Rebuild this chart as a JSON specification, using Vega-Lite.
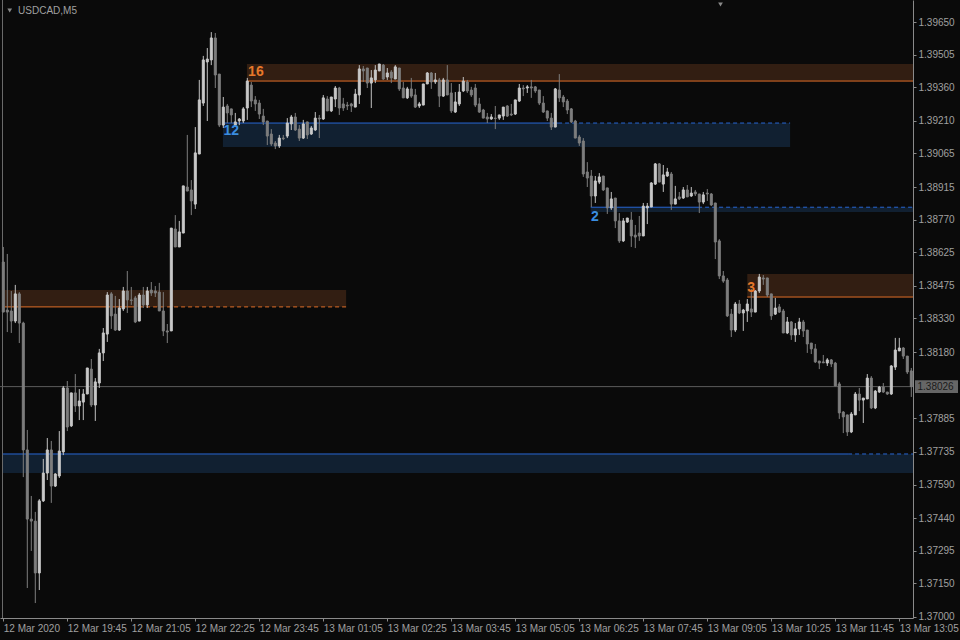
{
  "$schema": "https://vega.github.io/schema/vega-lite/v6.json",
  "width": 913,
  "height": 618,
  "autosize": {"type": "none"},
  "padding": {"left": 0, "top": 0, "right": 47, "bottom": 22},
  "background": "#0a0a0a",
  "config": {
    "view": {"stroke": null},
    "scale": {"continuousPadding": 0},
    "axis": {"grid": false, "labelFont": "Liberation Sans", "labelFontSize": 10, "labelColor": "#a0a0a0", "domainColor": "#8a8a8a", "tickColor": "#8a8a8a", "tickSize": 3, "labelPadding": 2, "labelOverlap": false, "labelFlush": false, "labelBound": false}
  },
  "datasets": {
    "candles": [
      {"i":0,"o":1.38581,"h":1.38648,"l":1.38358,"c":1.38358},
      {"i":1,"o":1.38367,"h":1.38617,"l":1.38269,"c":1.38358},
      {"i":2,"o":1.38363,"h":1.38452,"l":1.38265,"c":1.38318},
      {"i":3,"o":1.38318,"h":1.38479,"l":1.38309,"c":1.38439},
      {"i":4,"o":1.38439,"h":1.38447,"l":1.38220,"c":1.38309},
      {"i":5,"o":1.38309,"h":1.38315,"l":1.37623,"c":1.37744},
      {"i":6,"o":1.37744,"h":1.37833,"l":1.37129,"c":1.37436},
      {"i":7,"o":1.37436,"h":1.37539,"l":1.37294,"c":1.37427},
      {"i":8,"o":1.37427,"h":1.37468,"l":1.37062,"c":1.37196},
      {"i":9,"o":1.37196,"h":1.37525,"l":1.37120,"c":1.37517},
      {"i":10,"o":1.37517,"h":1.37704,"l":1.37512,"c":1.37641},
      {"i":11,"o":1.37641,"h":1.37797,"l":1.37610,"c":1.37744},
      {"i":12,"o":1.37744,"h":1.37784,"l":1.37508,"c":1.37583},
      {"i":13,"o":1.37583,"h":1.37640,"l":1.37579,"c":1.37637},
      {"i":14,"o":1.37628,"h":1.37828,"l":1.37619,"c":1.37739},
      {"i":15,"o":1.37735,"h":1.38029,"l":1.37721,"c":1.38020},
      {"i":16,"o":1.38020,"h":1.38051,"l":1.37828,"c":1.37846},
      {"i":17,"o":1.37851,"h":1.37998,"l":1.37846,"c":1.37998},
      {"i":18,"o":1.37998,"h":1.38082,"l":1.37913,"c":1.37940},
      {"i":19,"o":1.37940,"h":1.38015,"l":1.37877,"c":1.37962},
      {"i":20,"o":1.37957,"h":1.38015,"l":1.37877,"c":1.37993},
      {"i":21,"o":1.37993,"h":1.38109,"l":1.37993,"c":1.38109},
      {"i":22,"o":1.38104,"h":1.38149,"l":1.37935,"c":1.37944},
      {"i":23,"o":1.37944,"h":1.38064,"l":1.37873,"c":1.38047},
      {"i":24,"o":1.38042,"h":1.38194,"l":1.38020,"c":1.38176},
      {"i":25,"o":1.38176,"h":1.38287,"l":1.38140,"c":1.38265},
      {"i":26,"o":1.38260,"h":1.38447,"l":1.38225,"c":1.38434},
      {"i":27,"o":1.38439,"h":1.38447,"l":1.38283,"c":1.38341},
      {"i":28,"o":1.38349,"h":1.38430,"l":1.38274,"c":1.38278},
      {"i":29,"o":1.38278,"h":1.38416,"l":1.38274,"c":1.38376},
      {"i":30,"o":1.38372,"h":1.38470,"l":1.38363,"c":1.38452},
      {"i":31,"o":1.38452,"h":1.38541,"l":1.38354,"c":1.38412},
      {"i":32,"o":1.38412,"h":1.38470,"l":1.38390,"c":1.38410},
      {"i":33,"o":1.38421,"h":1.38430,"l":1.38309,"c":1.38314},
      {"i":34,"o":1.38318,"h":1.38443,"l":1.38318,"c":1.38434},
      {"i":35,"o":1.38434,"h":1.38470,"l":1.38376,"c":1.38390},
      {"i":36,"o":1.38390,"h":1.38470,"l":1.38376,"c":1.38452},
      {"i":37,"o":1.38456,"h":1.38492,"l":1.38430,"c":1.38443},
      {"i":38,"o":1.38452,"h":1.38474,"l":1.38425,"c":1.38443},
      {"i":39,"o":1.38447,"h":1.38488,"l":1.38363,"c":1.38363},
      {"i":40,"o":1.38363,"h":1.38447,"l":1.38251,"c":1.38274},
      {"i":41,"o":1.38274,"h":1.38305,"l":1.38220,"c":1.38269},
      {"i":42,"o":1.38274,"h":1.38732,"l":1.38274,"c":1.38732},
      {"i":43,"o":1.38728,"h":1.38790,"l":1.38648,"c":1.38648},
      {"i":44,"o":1.38648,"h":1.38764,"l":1.38648,"c":1.38715},
      {"i":45,"o":1.38710,"h":1.38920,"l":1.38710,"c":1.38920},
      {"i":46,"o":1.38915,"h":1.39147,"l":1.38897,"c":1.38897},
      {"i":47,"o":1.38902,"h":1.38946,"l":1.38790,"c":1.38853},
      {"i":48,"o":1.38839,"h":1.39182,"l":1.38817,"c":1.39067},
      {"i":49,"o":1.39062,"h":1.39392,"l":1.39062,"c":1.39303},
      {"i":50,"o":1.39289,"h":1.39499,"l":1.39276,"c":1.39481},
      {"i":51,"o":1.39472,"h":1.39534,"l":1.39209,"c":1.39485},
      {"i":52,"o":1.39481,"h":1.39605,"l":1.39458,"c":1.39579},
      {"i":53,"o":1.39579,"h":1.39601,"l":1.39356,"c":1.39414},
      {"i":54,"o":1.39418,"h":1.39418,"l":1.39182,"c":1.39191},
      {"i":55,"o":1.39191,"h":1.39316,"l":1.39178,"c":1.39271},
      {"i":56,"o":1.39276,"h":1.39285,"l":1.39200,"c":1.39245},
      {"i":57,"o":1.39263,"h":1.39263,"l":1.39200,"c":1.39236},
      {"i":58,"o":1.39191,"h":1.39245,"l":1.39187,"c":1.39205},
      {"i":59,"o":1.39209,"h":1.39222,"l":1.39191,"c":1.39218},
      {"i":60,"o":1.39209,"h":1.39271,"l":1.39200,"c":1.39263},
      {"i":61,"o":1.39267,"h":1.39401,"l":1.39214,"c":1.39387},
      {"i":62,"o":1.39369,"h":1.39383,"l":1.39271,"c":1.39298},
      {"i":63,"o":1.39303,"h":1.39320,"l":1.39254,"c":1.39285},
      {"i":64,"o":1.39289,"h":1.39303,"l":1.39218,"c":1.39240},
      {"i":65,"o":1.39231,"h":1.39263,"l":1.39191,"c":1.39205},
      {"i":66,"o":1.39209,"h":1.39209,"l":1.39102,"c":1.39142},
      {"i":67,"o":1.39151,"h":1.39173,"l":1.39098,"c":1.39107},
      {"i":68,"o":1.39111,"h":1.39120,"l":1.39084,"c":1.39098},
      {"i":69,"o":1.39098,"h":1.39147,"l":1.39089,"c":1.39133},
      {"i":70,"o":1.39133,"h":1.39147,"l":1.39124,"c":1.39130},
      {"i":71,"o":1.39142,"h":1.39222,"l":1.39133,"c":1.39200},
      {"i":72,"o":1.39196,"h":1.39236,"l":1.39169,"c":1.39227},
      {"i":73,"o":1.39227,"h":1.39245,"l":1.39165,"c":1.39169},
      {"i":74,"o":1.39173,"h":1.39191,"l":1.39120,"c":1.39133},
      {"i":75,"o":1.39133,"h":1.39214,"l":1.39129,"c":1.39196},
      {"i":76,"o":1.39205,"h":1.39205,"l":1.39129,"c":1.39147},
      {"i":77,"o":1.39151,"h":1.39187,"l":1.39147,"c":1.39178},
      {"i":78,"o":1.39169,"h":1.39249,"l":1.39165,"c":1.39222},
      {"i":79,"o":1.39222,"h":1.39236,"l":1.39133,"c":1.39218},
      {"i":80,"o":1.39218,"h":1.39325,"l":1.39214,"c":1.39312},
      {"i":81,"o":1.39307,"h":1.39320,"l":1.39254,"c":1.39254},
      {"i":82,"o":1.39254,"h":1.39316,"l":1.39249,"c":1.39316},
      {"i":83,"o":1.39307,"h":1.39365,"l":1.39271,"c":1.39356},
      {"i":84,"o":1.39356,"h":1.39361,"l":1.39236,"c":1.39267},
      {"i":85,"o":1.39285,"h":1.39312,"l":1.39254,"c":1.39267},
      {"i":86,"o":1.39280,"h":1.39294,"l":1.39258,"c":1.39276},
      {"i":87,"o":1.39285,"h":1.39290,"l":1.39249,"c":1.39276},
      {"i":88,"o":1.39271,"h":1.39352,"l":1.39271,"c":1.39329},
      {"i":89,"o":1.39325,"h":1.39458,"l":1.39285,"c":1.39441},
      {"i":90,"o":1.39441,"h":1.39454,"l":1.39383,"c":1.39432},
      {"i":91,"o":1.39445,"h":1.39445,"l":1.39356,"c":1.39378},
      {"i":92,"o":1.39378,"h":1.39436,"l":1.39267,"c":1.39401},
      {"i":93,"o":1.39392,"h":1.39458,"l":1.39378,"c":1.39436},
      {"i":94,"o":1.39432,"h":1.39463,"l":1.39432,"c":1.39463},
      {"i":95,"o":1.39458,"h":1.39463,"l":1.39392,"c":1.39396},
      {"i":96,"o":1.39405,"h":1.39445,"l":1.39392,"c":1.39423},
      {"i":97,"o":1.39427,"h":1.39436,"l":1.39378,"c":1.39401},
      {"i":98,"o":1.39396,"h":1.39458,"l":1.39396,"c":1.39450},
      {"i":99,"o":1.39445,"h":1.39445,"l":1.39343,"c":1.39352},
      {"i":100,"o":1.39356,"h":1.39383,"l":1.39312,"c":1.39312},
      {"i":101,"o":1.39312,"h":1.39361,"l":1.39307,"c":1.39352},
      {"i":102,"o":1.39352,"h":1.39401,"l":1.39312,"c":1.39320},
      {"i":103,"o":1.39325,"h":1.39352,"l":1.39267,"c":1.39271},
      {"i":104,"o":1.39276,"h":1.39294,"l":1.39267,"c":1.39285},
      {"i":105,"o":1.39280,"h":1.39374,"l":1.39280,"c":1.39374},
      {"i":106,"o":1.39374,"h":1.39427,"l":1.39374,"c":1.39423},
      {"i":107,"o":1.39423,"h":1.39427,"l":1.39352,"c":1.39383},
      {"i":108,"o":1.39383,"h":1.39423,"l":1.39374,"c":1.39392},
      {"i":109,"o":1.39392,"h":1.39401,"l":1.39271,"c":1.39320},
      {"i":110,"o":1.39320,"h":1.39401,"l":1.39316,"c":1.39392},
      {"i":111,"o":1.39392,"h":1.39458,"l":1.39325,"c":1.39325},
      {"i":112,"o":1.39334,"h":1.39378,"l":1.39245,"c":1.39254},
      {"i":113,"o":1.39249,"h":1.39338,"l":1.39245,"c":1.39294},
      {"i":114,"o":1.39285,"h":1.39374,"l":1.39276,"c":1.39338},
      {"i":115,"o":1.39343,"h":1.39405,"l":1.39338,"c":1.39387},
      {"i":116,"o":1.39383,"h":1.39392,"l":1.39334,"c":1.39343},
      {"i":117,"o":1.39347,"h":1.39361,"l":1.39316,"c":1.39325},
      {"i":118,"o":1.39356,"h":1.39374,"l":1.39271,"c":1.39280},
      {"i":119,"o":1.39285,"h":1.39312,"l":1.39245,"c":1.39249},
      {"i":120,"o":1.39258,"h":1.39263,"l":1.39222,"c":1.39222},
      {"i":121,"o":1.39227,"h":1.39245,"l":1.39200,"c":1.39218},
      {"i":122,"o":1.39218,"h":1.39240,"l":1.39214,"c":1.39227},
      {"i":123,"o":1.39222,"h":1.39276,"l":1.39173,"c":1.39220},
      {"i":124,"o":1.39222,"h":1.39236,"l":1.39214,"c":1.39236},
      {"i":125,"o":1.39231,"h":1.39271,"l":1.39214,"c":1.39271},
      {"i":126,"o":1.39276,"h":1.39280,"l":1.39227,"c":1.39231},
      {"i":127,"o":1.39240,"h":1.39285,"l":1.39231,"c":1.39236},
      {"i":128,"o":1.39240,"h":1.39303,"l":1.39236,"c":1.39303},
      {"i":129,"o":1.39298,"h":1.39374,"l":1.39294,"c":1.39356},
      {"i":130,"o":1.39356,"h":1.39369,"l":1.39320,"c":1.39352},
      {"i":131,"o":1.39356,"h":1.39369,"l":1.39334,"c":1.39361},
      {"i":132,"o":1.39361,"h":1.39392,"l":1.39312,"c":1.39356},
      {"i":133,"o":1.39361,"h":1.39365,"l":1.39334,"c":1.39343},
      {"i":134,"o":1.39347,"h":1.39347,"l":1.39280,"c":1.39289},
      {"i":135,"o":1.39289,"h":1.39320,"l":1.39245,"c":1.39249},
      {"i":136,"o":1.39254,"h":1.39254,"l":1.39209,"c":1.39222},
      {"i":137,"o":1.39222,"h":1.39245,"l":1.39169,"c":1.39182},
      {"i":138,"o":1.39182,"h":1.39356,"l":1.39182,"c":1.39352},
      {"i":139,"o":1.39347,"h":1.39418,"l":1.39294,"c":1.39312},
      {"i":140,"o":1.39316,"h":1.39325,"l":1.39271,"c":1.39294},
      {"i":141,"o":1.39298,"h":1.39307,"l":1.39240,"c":1.39258},
      {"i":142,"o":1.39263,"h":1.39267,"l":1.39200,"c":1.39205},
      {"i":143,"o":1.39209,"h":1.39214,"l":1.39133,"c":1.39133},
      {"i":144,"o":1.39138,"h":1.39147,"l":1.39098,"c":1.39111},
      {"i":145,"o":1.39120,"h":1.39133,"l":1.38960,"c":1.38973},
      {"i":146,"o":1.38982,"h":1.39026,"l":1.38915,"c":1.38955},
      {"i":147,"o":1.38964,"h":1.38991,"l":1.38826,"c":1.38875},
      {"i":148,"o":1.38875,"h":1.38964,"l":1.38844,"c":1.38942},
      {"i":149,"o":1.38937,"h":1.38977,"l":1.38928,"c":1.38960},
      {"i":150,"o":1.38964,"h":1.38964,"l":1.38897,"c":1.38902},
      {"i":151,"o":1.38911,"h":1.38911,"l":1.38795,"c":1.38822},
      {"i":152,"o":1.38822,"h":1.38893,"l":1.38813,"c":1.38862},
      {"i":153,"o":1.38866,"h":1.38866,"l":1.38732,"c":1.38764},
      {"i":154,"o":1.38764,"h":1.38799,"l":1.38666,"c":1.38675},
      {"i":155,"o":1.38675,"h":1.38777,"l":1.38670,"c":1.38764},
      {"i":156,"o":1.38759,"h":1.38777,"l":1.38755,"c":1.38777},
      {"i":157,"o":1.38768,"h":1.38804,"l":1.38648,"c":1.38697},
      {"i":158,"o":1.38701,"h":1.38746,"l":1.38643,"c":1.38692},
      {"i":159,"o":1.38710,"h":1.38786,"l":1.38675,"c":1.38697},
      {"i":160,"o":1.38697,"h":1.38844,"l":1.38697,"c":1.38830},
      {"i":161,"o":1.38822,"h":1.38844,"l":1.38750,"c":1.38830},
      {"i":162,"o":1.38826,"h":1.38937,"l":1.38826,"c":1.38933},
      {"i":163,"o":1.38928,"h":1.39022,"l":1.38924,"c":1.39018},
      {"i":164,"o":1.39018,"h":1.39022,"l":1.38937,"c":1.38937},
      {"i":165,"o":1.38928,"h":1.39013,"l":1.38893,"c":1.38969},
      {"i":166,"o":1.38964,"h":1.39000,"l":1.38960,"c":1.38982},
      {"i":167,"o":1.38973,"h":1.38982,"l":1.38813,"c":1.38839},
      {"i":168,"o":1.38839,"h":1.38920,"l":1.38839,"c":1.38862},
      {"i":169,"o":1.38871,"h":1.38893,"l":1.38857,"c":1.38862},
      {"i":170,"o":1.38866,"h":1.38915,"l":1.38862,"c":1.38902},
      {"i":171,"o":1.38902,"h":1.38924,"l":1.38871,"c":1.38871},
      {"i":172,"o":1.38875,"h":1.38915,"l":1.38871,"c":1.38888},
      {"i":173,"o":1.38893,"h":1.38902,"l":1.38875,"c":1.38884},
      {"i":174,"o":1.38884,"h":1.38884,"l":1.38799,"c":1.38848},
      {"i":175,"o":1.38848,"h":1.38893,"l":1.38839,"c":1.38880},
      {"i":176,"o":1.38888,"h":1.38906,"l":1.38853,"c":1.38884},
      {"i":177,"o":1.38884,"h":1.38888,"l":1.38830,"c":1.38835},
      {"i":178,"o":1.38844,"h":1.38844,"l":1.38594,"c":1.38670},
      {"i":179,"o":1.38675,"h":1.38683,"l":1.38505,"c":1.38519},
      {"i":180,"o":1.38519,"h":1.38541,"l":1.38488,"c":1.38496},
      {"i":181,"o":1.38501,"h":1.38510,"l":1.38336,"c":1.38341},
      {"i":182,"o":1.38349,"h":1.38372,"l":1.38247,"c":1.38278},
      {"i":183,"o":1.38278,"h":1.38403,"l":1.38269,"c":1.38394},
      {"i":184,"o":1.38394,"h":1.38412,"l":1.38349,"c":1.38354},
      {"i":185,"o":1.38354,"h":1.38372,"l":1.38274,"c":1.38367},
      {"i":186,"o":1.38363,"h":1.38416,"l":1.38314,"c":1.38394},
      {"i":187,"o":1.38372,"h":1.38461,"l":1.38336,"c":1.38358},
      {"i":188,"o":1.38358,"h":1.38456,"l":1.38358,"c":1.38452},
      {"i":189,"o":1.38452,"h":1.38528,"l":1.38443,"c":1.38514},
      {"i":190,"o":1.38510,"h":1.38523,"l":1.38479,"c":1.38505},
      {"i":191,"o":1.38510,"h":1.38510,"l":1.38425,"c":1.38434},
      {"i":192,"o":1.38439,"h":1.38439,"l":1.38323,"c":1.38341},
      {"i":193,"o":1.38349,"h":1.38421,"l":1.38345,"c":1.38376},
      {"i":194,"o":1.38381,"h":1.38394,"l":1.38354,"c":1.38358},
      {"i":195,"o":1.38363,"h":1.38372,"l":1.38265,"c":1.38265},
      {"i":196,"o":1.38265,"h":1.38336,"l":1.38260,"c":1.38314},
      {"i":197,"o":1.38314,"h":1.38318,"l":1.38234,"c":1.38256},
      {"i":198,"o":1.38256,"h":1.38309,"l":1.38225,"c":1.38283},
      {"i":199,"o":1.38283,"h":1.38332,"l":1.38256,"c":1.38314},
      {"i":200,"o":1.38314,"h":1.38323,"l":1.38247,"c":1.38274},
      {"i":201,"o":1.38278,"h":1.38278,"l":1.38176,"c":1.38216},
      {"i":202,"o":1.38220,"h":1.38220,"l":1.38171,"c":1.38194},
      {"i":203,"o":1.38194,"h":1.38216,"l":1.38131,"c":1.38136},
      {"i":204,"o":1.38140,"h":1.38140,"l":1.38104,"c":1.38131},
      {"i":205,"o":1.38136,"h":1.38167,"l":1.38131,"c":1.38132},
      {"i":206,"o":1.38131,"h":1.38153,"l":1.38118,"c":1.38145},
      {"i":207,"o":1.38145,"h":1.38149,"l":1.38113,"c":1.38127},
      {"i":208,"o":1.38131,"h":1.38136,"l":1.38029,"c":1.38029},
      {"i":209,"o":1.38038,"h":1.38047,"l":1.37882,"c":1.37909},
      {"i":210,"o":1.37913,"h":1.37917,"l":1.37819,"c":1.37891},
      {"i":211,"o":1.37900,"h":1.37900,"l":1.37806,"c":1.37824},
      {"i":212,"o":1.37824,"h":1.37913,"l":1.37819,"c":1.37904},
      {"i":213,"o":1.37900,"h":1.38002,"l":1.37900,"c":1.37993},
      {"i":214,"o":1.37993,"h":1.38020,"l":1.37917,"c":1.37966},
      {"i":215,"o":1.37966,"h":1.37975,"l":1.37864,"c":1.37975},
      {"i":216,"o":1.37971,"h":1.38082,"l":1.37971,"c":1.38064},
      {"i":217,"o":1.38064,"h":1.38073,"l":1.37926,"c":1.37931},
      {"i":218,"o":1.37931,"h":1.38011,"l":1.37926,"c":1.38006},
      {"i":219,"o":1.38002,"h":1.38029,"l":1.37998,"c":1.38024},
      {"i":220,"o":1.38024,"h":1.38042,"l":1.37998,"c":1.38002},
      {"i":221,"o":1.38002,"h":1.38002,"l":1.37989,"c":1.37993},
      {"i":222,"o":1.37993,"h":1.38122,"l":1.37989,"c":1.38118},
      {"i":223,"o":1.38113,"h":1.38243,"l":1.38100,"c":1.38189},
      {"i":224,"o":1.38185,"h":1.38243,"l":1.38185,"c":1.38198},
      {"i":225,"o":1.38198,"h":1.38202,"l":1.38149,"c":1.38162},
      {"i":226,"o":1.38162,"h":1.38162,"l":1.38082,"c":1.38091},
      {"i":227,"o":1.38096,"h":1.38109,"l":1.37980,"c":1.38026}
    ],
    "brownZones": [
      {"x1":60.9,"x2":230,"p1":1.39463,"p2":1.39387},
      {"x1":0.4,"x2":85.7,"p1":1.38456,"p2":1.38381},
      {"x1":186,"x2":230,"p1":1.38528,"p2":1.38425}
    ],
    "blueZones": [
      {"x1":54.9,"x2":196.7,"p1":1.39200,"p2":1.39093},
      {"x1":-0.1,"x2":230,"p1":1.37726,"p2":1.37641},
      {"x1":146.85,"x2":230,"p1":1.38825,"p2":1.38804}
    ],
    "orangeSolid": [
      {"x1":60.9,"x2":230,"p":1.39387},
      {"x1":0.4,"x2":32.2,"p":1.38381},
      {"x1":186,"x2":230,"p":1.38425}
    ],
    "orangeDash": [
      {"x1":32.2,"x2":85.7,"p":1.38381}
    ],
    "blueSolid": [
      {"x1":54.9,"x2":138.7,"p":1.39200},
      {"x1":-0.1,"x2":211.2,"p":1.37726},
      {"x1":146.85,"x2":173.7,"p":1.38825}
    ],
    "blueDash": [
      {"x1":138.7,"x2":196.7,"p":1.39200},
      {"x1":211.2,"x2":230,"p":1.37726},
      {"x1":173.7,"x2":230,"p":1.38825}
    ],
    "price": [{"p":1.38026,"t":"1.38026"}],
    "orangeTxt": [
      {"x":61.2,"p":1.39427,"t":"16"},
      {"x":186.0,"p":1.38465,"t":"3"}
    ],
    "blueTxt": [
      {"x":55.05,"p":1.39165,"t":"12"},
      {"x":146.9,"p":1.38781,"t":"2"}
    ],
    "title": [{"x":3.7,"p":1.39701,"t":"USDCAD,M5"}],
    "markers": [
      {"x":1.6,"p":1.39701},
      {"x":179.3,"p":1.39728}
    ],
    "edge": [{"x":-0.2}]
  },
  "layer": [
    {
      "data": {"name": "brownZones"},
      "mark": {"type": "rect", "color": "#321e12", "clip": true},
      "encoding": {
        "x": {"field": "x1", "type": "quantitative", "title": null, "scale": {"domain": [-0.825, 227.425], "nice": false, "zero": false, "padding": 0},
          "axis": {"orient": "bottom", "title": null, "values": [0,16,32,48,64,80,96,112,128,144,160,176,192,208,224], "labelAlign": "left", "labelFlush": false, "labelOverlap": false,
            "labelExpr": "['12 Mar 2020','12 Mar 19:45','12 Mar 21:05','12 Mar 22:25','12 Mar 23:45','13 Mar 01:05','13 Mar 02:25','13 Mar 03:45','13 Mar 05:05','13 Mar 06:25','13 Mar 07:45','13 Mar 09:05','13 Mar 10:25','13 Mar 11:45','13 Mar 13:05'][round(datum.value/16)]"}},
        "x2": {"field": "x2"},
        "y": {"field": "p1", "type": "quantitative", "title": null, "scale": {"domain": [1.369954, 1.39748], "nice": false, "zero": false, "padding": 0},
          "axis": {"orient": "right", "title": null, "format": ".5f", "labelBaseline": "middle", "labelFlush": false, "labelOverlap": false,
            "values": [1.3965, 1.39505, 1.3936, 1.3921, 1.39065, 1.38915, 1.3877, 1.38625, 1.38475, 1.3833, 1.3818, 1.37885, 1.37735, 1.3759, 1.3744, 1.37295, 1.3715, 1.37]}},
        "y2": {"field": "p2"}
      }
    },
    {
      "data": {"name": "blueZones"},
      "mark": {"type": "rect", "color": "#112031", "clip": true},
      "encoding": {
        "x": {"field": "x1", "type": "quantitative", "title": null},
        "x2": {"field": "x2"},
        "y": {"field": "p1", "type": "quantitative", "title": null, "axis": {"orient": "right", "title": null, "format": ".5f", "labelBaseline": "middle", "labelFlush": false, "labelOverlap": false, "values": [1.3965, 1.39505, 1.3936, 1.3921, 1.39065, 1.38915, 1.3877, 1.38625, 1.38475, 1.3833, 1.3818, 1.37885, 1.37735, 1.3759, 1.3744, 1.37295, 1.3715, 1.37]}},
        "y2": {"field": "p2"}
      }
    },
    {
      "data": {"name": "edge"},
      "mark": {"type": "rule", "color": "#6a6a6a", "strokeWidth": 1},
      "encoding": {
        "x": {"field": "x", "type": "quantitative", "title": null}
      }
    },
    {
      "data": {"name": "price"},
      "mark": {"type": "rule", "color": "#5c5c5c", "strokeWidth": 1},
      "encoding": {
        "y": {"field": "p", "type": "quantitative", "title": null, "axis": {"orient": "right", "title": null, "format": ".5f", "labelBaseline": "middle", "labelFlush": false, "labelOverlap": false, "values": [1.3965, 1.39505, 1.3936, 1.3921, 1.39065, 1.38915, 1.3877, 1.38625, 1.38475, 1.3833, 1.3818, 1.37885, 1.37735, 1.3759, 1.3744, 1.37295, 1.3715, 1.37]}}
      }
    },
    {
      "data": {"name": "orangeSolid"},
      "mark": {"type": "rule", "color": "#e06e28", "strokeWidth": 1, "clip": true},
      "encoding": {
        "x": {"field": "x1", "type": "quantitative", "title": null},
        "x2": {"field": "x2"},
        "y": {"field": "p", "type": "quantitative", "title": null, "axis": {"orient": "right", "title": null, "format": ".5f", "labelBaseline": "middle", "labelFlush": false, "labelOverlap": false, "values": [1.3965, 1.39505, 1.3936, 1.3921, 1.39065, 1.38915, 1.3877, 1.38625, 1.38475, 1.3833, 1.3818, 1.37885, 1.37735, 1.3759, 1.3744, 1.37295, 1.3715, 1.37]}}
      }
    },
    {
      "data": {"name": "orangeDash"},
      "mark": {"type": "rule", "color": "#e06e28", "strokeWidth": 1, "strokeDash": [4, 3], "clip": true},
      "encoding": {
        "x": {"field": "x1", "type": "quantitative", "title": null},
        "x2": {"field": "x2"},
        "y": {"field": "p", "type": "quantitative", "title": null, "axis": {"orient": "right", "title": null, "format": ".5f", "labelBaseline": "middle", "labelFlush": false, "labelOverlap": false, "values": [1.3965, 1.39505, 1.3936, 1.3921, 1.39065, 1.38915, 1.3877, 1.38625, 1.38475, 1.3833, 1.3818, 1.37885, 1.37735, 1.3759, 1.3744, 1.37295, 1.3715, 1.37]}}
      }
    },
    {
      "data": {"name": "blueSolid"},
      "mark": {"type": "rule", "color": "#2866d4", "strokeWidth": 1, "clip": true},
      "encoding": {
        "x": {"field": "x1", "type": "quantitative", "title": null},
        "x2": {"field": "x2"},
        "y": {"field": "p", "type": "quantitative", "title": null, "axis": {"orient": "right", "title": null, "format": ".5f", "labelBaseline": "middle", "labelFlush": false, "labelOverlap": false, "values": [1.3965, 1.39505, 1.3936, 1.3921, 1.39065, 1.38915, 1.3877, 1.38625, 1.38475, 1.3833, 1.3818, 1.37885, 1.37735, 1.3759, 1.3744, 1.37295, 1.3715, 1.37]}}
      }
    },
    {
      "data": {"name": "blueDash"},
      "mark": {"type": "rule", "color": "#2866d4", "strokeWidth": 1, "strokeDash": [4, 3], "clip": true},
      "encoding": {
        "x": {"field": "x1", "type": "quantitative", "title": null},
        "x2": {"field": "x2"},
        "y": {"field": "p", "type": "quantitative", "title": null, "axis": {"orient": "right", "title": null, "format": ".5f", "labelBaseline": "middle", "labelFlush": false, "labelOverlap": false, "values": [1.3965, 1.39505, 1.3936, 1.3921, 1.39065, 1.38915, 1.3877, 1.38625, 1.38475, 1.3833, 1.3818, 1.37885, 1.37735, 1.3759, 1.3744, 1.37295, 1.3715, 1.37]}}
      }
    },
    {
      "data": {"name": "candles"},
      "mark": {"type": "rule", "strokeWidth": 1},
      "encoding": {
        "x": {"field": "i", "type": "quantitative", "title": null},
        "y": {"field": "l", "type": "quantitative", "title": null, "axis": {"orient": "right", "title": null, "format": ".5f", "labelBaseline": "middle", "labelFlush": false, "labelOverlap": false, "values": [1.3965, 1.39505, 1.3936, 1.3921, 1.39065, 1.38915, 1.3877, 1.38625, 1.38475, 1.3833, 1.3818, 1.37885, 1.37735, 1.3759, 1.3744, 1.37295, 1.3715, 1.37]}},
        "y2": {"field": "h"},
        "color": {"condition": {"test": "datum.c >= datum.o", "value": "#c0c0c0"}, "value": "#7d7d7d"}
      }
    },
    {
      "data": {"name": "candles"},
      "mark": {"type": "bar", "size": 2, "strokeWidth": 1},
      "encoding": {
        "x": {"field": "i", "type": "quantitative", "title": null},
        "y": {"field": "o", "type": "quantitative", "title": null, "axis": {"orient": "right", "title": null, "format": ".5f", "labelBaseline": "middle", "labelFlush": false, "labelOverlap": false, "values": [1.3965, 1.39505, 1.3936, 1.3921, 1.39065, 1.38915, 1.3877, 1.38625, 1.38475, 1.3833, 1.3818, 1.37885, 1.37735, 1.3759, 1.3744, 1.37295, 1.3715, 1.37]}},
        "y2": {"field": "c"},
        "fill": {"condition": {"test": "datum.c >= datum.o", "value": "#c8c8c8"}, "value": "#7d7d7d"},
        "stroke": {"condition": {"test": "datum.c >= datum.o", "value": "#c8c8c8"}, "value": "#7d7d7d"}
      }
    },
    {
      "data": {"name": "orangeTxt"},
      "mark": {"type": "text", "align": "left", "baseline": "middle", "font": "Liberation Sans", "fontSize": 14, "fontWeight": "bold", "color": "#e6782a"},
      "encoding": {
        "x": {"field": "x", "type": "quantitative", "title": null},
        "y": {"field": "p", "type": "quantitative", "title": null, "axis": {"orient": "right", "title": null, "format": ".5f", "labelBaseline": "middle", "labelFlush": false, "labelOverlap": false, "values": [1.3965, 1.39505, 1.3936, 1.3921, 1.39065, 1.38915, 1.3877, 1.38625, 1.38475, 1.3833, 1.3818, 1.37885, 1.37735, 1.3759, 1.3744, 1.37295, 1.3715, 1.37]}},
        "text": {"field": "t"}
      }
    },
    {
      "data": {"name": "blueTxt"},
      "mark": {"type": "text", "align": "left", "baseline": "middle", "font": "Liberation Sans", "fontSize": 14, "fontWeight": "bold", "color": "#3a8de0"},
      "encoding": {
        "x": {"field": "x", "type": "quantitative", "title": null},
        "y": {"field": "p", "type": "quantitative", "title": null, "axis": {"orient": "right", "title": null, "format": ".5f", "labelBaseline": "middle", "labelFlush": false, "labelOverlap": false, "values": [1.3965, 1.39505, 1.3936, 1.3921, 1.39065, 1.38915, 1.3877, 1.38625, 1.38475, 1.3833, 1.3818, 1.37885, 1.37735, 1.3759, 1.3744, 1.37295, 1.3715, 1.37]}},
        "text": {"field": "t"}
      }
    },
    {
      "data": {"name": "title"},
      "mark": {"type": "text", "align": "left", "baseline": "middle", "font": "Liberation Sans", "fontSize": 10, "color": "#a0a0a0"},
      "encoding": {
        "x": {"field": "x", "type": "quantitative", "title": null},
        "y": {"field": "p", "type": "quantitative", "title": null, "axis": {"orient": "right", "title": null, "format": ".5f", "labelBaseline": "middle", "labelFlush": false, "labelOverlap": false, "values": [1.3965, 1.39505, 1.3936, 1.3921, 1.39065, 1.38915, 1.3877, 1.38625, 1.38475, 1.3833, 1.3818, 1.37885, 1.37735, 1.3759, 1.3744, 1.37295, 1.3715, 1.37]}},
        "text": {"field": "t"}
      }
    },
    {
      "data": {"name": "markers"},
      "mark": {"type": "point", "shape": "triangle-down", "filled": true, "size": 22, "color": "#8a8a8a", "opacity": 1},
      "encoding": {
        "x": {"field": "x", "type": "quantitative", "title": null},
        "y": {"field": "p", "type": "quantitative", "title": null, "axis": {"orient": "right", "title": null, "format": ".5f", "labelBaseline": "middle", "labelFlush": false, "labelOverlap": false, "values": [1.3965, 1.39505, 1.3936, 1.3921, 1.39065, 1.38915, 1.3877, 1.38625, 1.38475, 1.3833, 1.3818, 1.37885, 1.37735, 1.3759, 1.3744, 1.37295, 1.3715, 1.37]}}
      }
    },
    {
      "data": {"name": "price"},
      "mark": {"type": "point", "shape": "M-1,-0.3L1,-0.3L1,0.3L-1,0.3Z", "filled": true, "size": 1849, "color": "#666666", "opacity": 1, "xOffset": 23.5},
      "encoding": {
        "x": {"datum": 227.425, "type": "quantitative", "title": null},
        "y": {"field": "p", "type": "quantitative", "title": null, "axis": {"orient": "right", "title": null, "format": ".5f", "labelBaseline": "middle", "labelFlush": false, "labelOverlap": false, "values": [1.3965, 1.39505, 1.3936, 1.3921, 1.39065, 1.38915, 1.3877, 1.38625, 1.38475, 1.3833, 1.3818, 1.37885, 1.37735, 1.3759, 1.3744, 1.37295, 1.3715, 1.37]}}
      }
    },
    {
      "data": {"name": "price"},
      "mark": {"type": "text", "align": "left", "baseline": "middle", "font": "Liberation Sans", "fontSize": 10, "color": "#1a1a1a", "xOffset": 4.5},
      "encoding": {
        "x": {"datum": 227.425, "type": "quantitative", "title": null},
        "y": {"field": "p", "type": "quantitative", "title": null, "axis": {"orient": "right", "title": null, "format": ".5f", "labelBaseline": "middle", "labelFlush": false, "labelOverlap": false, "values": [1.3965, 1.39505, 1.3936, 1.3921, 1.39065, 1.38915, 1.3877, 1.38625, 1.38475, 1.3833, 1.3818, 1.37885, 1.37735, 1.3759, 1.3744, 1.37295, 1.3715, 1.37]}},
        "text": {"field": "t"}
      }
    }
  ]
}
